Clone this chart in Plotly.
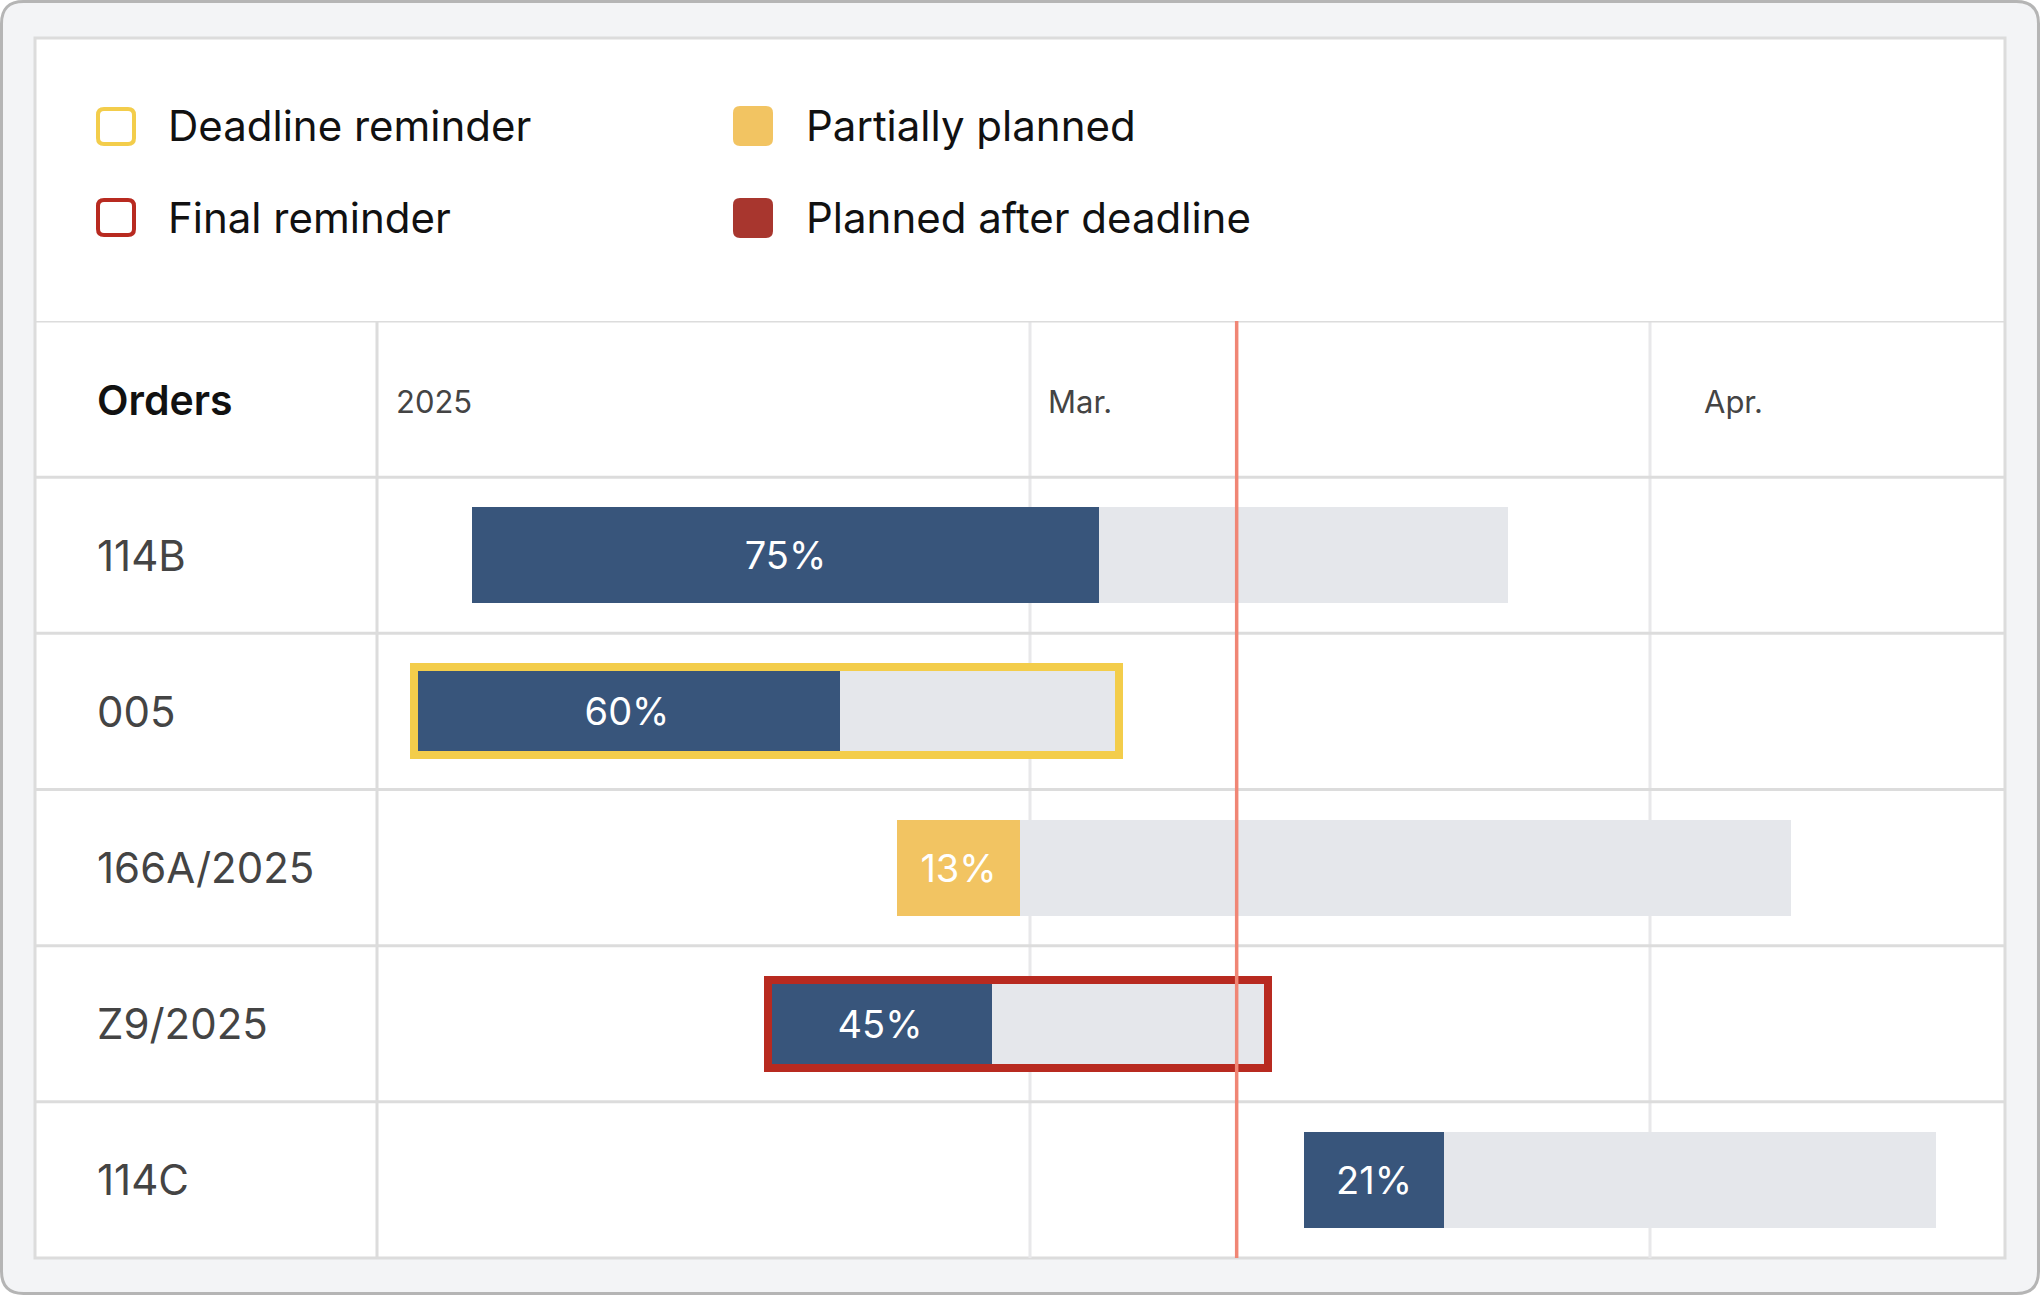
import pandas as pd
import plotly.graph_objects as go

# --- data ---
orders = ["114B", "005", "166A/2025", "Z9/2025", "114C"]
start = ["2025-02-01 02:00", "2025-01-29 05:00", "2025-02-22 08:00",
         "2025-02-15 22:00", "2025-03-14 17:00"]
planned_until = ["2025-03-04 11:00", "2025-02-19 12:00", "2025-02-28 12:00",
                 "2025-02-27 02:00", "2025-03-21 17:00"]
end = ["2025-03-24 22:00", "2025-03-05 11:00", "2025-04-08 01:00",
       "2025-03-12 22:00", "2025-04-15 07:00"]
percent = [75, 60, 13, 45, 21]
plan_state = ["planned", "planned", "partial", "planned", "planned"]
reminder = [None, "deadline", None, "final", None]

tick_labels = ["2025", "Mar.", "Apr."]
tick_dates = ["2025-01-27 08:24", "2025-03-01", "2025-04-01"]
month_starts = ["2025-03-01", "2025-04-01"]
today = "2025-03-11 08:00"
x_range = ["2025-01-27 08:24", "2025-04-18 18:00"]

legend_labels = ["Deadline reminder", "Final reminder",
                 "Partially planned", "Planned after deadline"]

# --- styles ---
W, H = 2040, 1296
FONT = "Inter, sans-serif"
BLUE = "#38557b"
TRACK = "#e5e7eb"
PARTIAL = "#f2c462"
YELLOW = "#f3cd4b"
RED = "#b82a20"
LATE = "#a8362e"
TODAY = "#f08675"
LINE = "#dcdcdc"
GRID = "#e8e8ea"


def px(x):
    return x / W


def py(y):
    return 1 - y / H


def rrect(x0, y0, x1, y1, r):
    p = lambda x, y: f"{px(x):.5f},{py(y):.5f}"
    return (f"M {p(x0 + r, y0)} L {p(x1 - r, y0)} Q {p(x1, y0)} {p(x1, y0 + r)} "
            f"L {p(x1, y1 - r)} Q {p(x1, y1)} {p(x1 - r, y1)} "
            f"L {p(x0 + r, y1)} Q {p(x0, y1)} {p(x0, y1 - r)} "
            f"L {p(x0, y0 + r)} Q {p(x0, y0)} {p(x0 + r, y0)} Z")


s = pd.to_datetime(start)
total_ms = [(e - b).total_seconds() * 1000 for b, e in zip(s, pd.to_datetime(end))]
done_ms = [(e - b).total_seconds() * 1000 for b, e in zip(s, pd.to_datetime(planned_until))]
bar_w = [0.564 if r else 0.615 for r in reminder]
fill = [PARTIAL if st == "partial" else BLUE for st in plan_state]

fig = go.Figure()
fig.add_trace(go.Bar(y=orders, x=total_ms, base=start, orientation="h",
                     width=bar_w, marker=dict(color=TRACK, line_width=0),
                     hoverinfo="skip"))
fig.add_trace(go.Bar(y=orders, x=done_ms, base=start, orientation="h",
                     width=bar_w, marker=dict(color=fill, line_width=0),
                     text=[f"{p}%" for p in percent], textposition="inside",
                     insidetextanchor="middle", textangle=0,
                     textfont=dict(family=FONT, size=38, color="white"),
                     hoverinfo="skip"))
idx = [i for i, r in enumerate(reminder) if r]
fig.add_trace(go.Bar(y=[orders[i] for i in idx], x=[total_ms[i] for i in idx],
                     base=[start[i] for i in idx], orientation="h", width=0.564,
                     marker=dict(color="rgba(0,0,0,0)",
                                 line=dict(color=[YELLOW if reminder[i] == "deadline" else RED
                                                  for i in idx], width=8)),
                     hoverinfo="skip"))

shapes = [
    dict(type="path", path=rrect(1.5, 1.5, 2038.5, 1293.5, 22), xref="paper", yref="paper",
         fillcolor="#f3f4f6", line=dict(color="#b5b5b5", width=3), layer="below"),
    dict(type="rect", x0=px(35), x1=px(2005), y0=py(38), y1=py(1258), xref="paper", yref="paper",
         fillcolor="white", line=dict(color=LINE, width=3), layer="below"),
]
for m in month_starts:
    shapes.append(dict(type="line", xref="x", yref="paper", x0=m, x1=m,
                       y0=py(1258), y1=py(321), line=dict(color=GRID, width=3), layer="below"))
for k in range(-1, len(orders)):
    shapes.append(dict(type="line", xref="paper", yref="y", x0=px(35), x1=px(2005),
                       y0=k - 0.5, y1=k - 0.5, line=dict(color=LINE, width=3), layer="below"))
shapes.append(dict(type="line", xref="paper", yref="paper", x0=px(377), x1=px(377),
                   y0=py(321), y1=py(1258), line=dict(color=LINE, width=3), layer="below"))
shapes.append(dict(type="line", xref="x", yref="paper", x0=today, x1=today,
                   y0=py(321), y1=py(1258), line=dict(color=TODAY, width=3.5), layer="above"))

# legend swatches
shapes += [
    dict(type="path", path=rrect(98, 109, 134, 144, 6), xref="paper", yref="paper",
         fillcolor="white", line=dict(color=YELLOW, width=4)),
    dict(type="path", path=rrect(98, 200, 134, 235, 6), xref="paper", yref="paper",
         fillcolor="white", line=dict(color=RED, width=4)),
    dict(type="path", path=rrect(733, 106, 773, 146, 7), xref="paper", yref="paper",
         fillcolor=PARTIAL, line=dict(width=0)),
    dict(type="path", path=rrect(733, 198, 773, 238, 7), xref="paper", yref="paper",
         fillcolor=LATE, line=dict(width=0)),
]

ann = []
for (lx, ly), lab in zip([(166, 126), (166, 218), (804, 126), (804, 218)], legend_labels):
    ann.append(dict(x=px(lx), y=py(ly), xref="paper", yref="paper", text=lab,
                    xanchor="left", yanchor="middle", showarrow=False,
                    font=dict(family=FONT, size=42, color="#111111")))
ann.append(dict(x=px(95), y=py(400), xref="paper", yref="paper", text="Orders",
                xanchor="left", yanchor="middle", showarrow=False,
                font=dict(family=FONT, size=41, color="#111111", weight=600)))
for i, o in enumerate(orders):
    ann.append(dict(x=px(95), y=i, xref="paper", yref="y", text=o, xanchor="left",
                    yanchor="middle", showarrow=False,
                    font=dict(family=FONT, size=42, color="#444444")))
for d, lab, sh in zip(tick_dates, tick_labels, [17, 16, 52]):
    ann.append(dict(x=d, y=py(401), xref="x", yref="paper", text=lab, xanchor="left",
                    yanchor="middle", xshift=sh, showarrow=False,
                    font=dict(family=FONT, size=31, color="#444444")))

fig.update_layout(
    width=W, height=H, margin=dict(l=0, r=0, t=0, b=0),
    paper_bgcolor="white", plot_bgcolor="rgba(0,0,0,0)",
    barmode="overlay", showlegend=False, bargap=0,
    shapes=shapes, annotations=ann,
    xaxis=dict(type="date", range=x_range, domain=[px(377), px(2005)],
               showgrid=False, zeroline=False, showticklabels=False, fixedrange=True),
    yaxis=dict(type="category", categoryorder="array", categoryarray=orders,
               range=[len(orders) - 0.5, -1.5], domain=[py(1258), py(321)],
               showgrid=False, zeroline=False, showticklabels=False, fixedrange=True),
)

fig.write_html("out.html", config={"displayModeBar": False},
               post_script="document.body.style.margin='0';document.body.style.overflow='hidden';")
